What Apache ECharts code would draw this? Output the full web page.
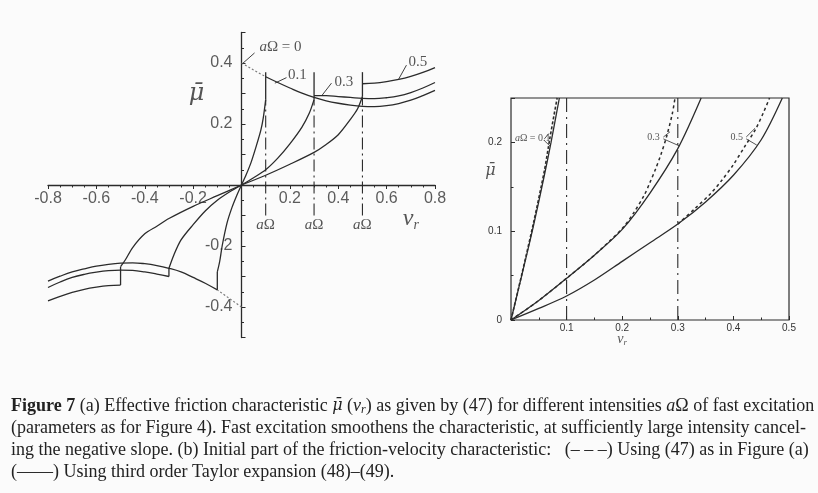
<!DOCTYPE html>
<html><head><meta charset="utf-8">
<script src="https://cdn.jsdelivr.net/npm/echarts@6/dist/echarts.min.js"></script>
<style>html,body{margin:0;padding:0;background:#fbfbfb}#c{width:818px;height:493px}</style>
</head><body><div id="c"></div><script>
// ---------- Panel (a): effective friction characteristic ----------
const aLevels = [0.1, 0.3, 0.5];
// rising branches (v_r >= 0)
const riseV01 = [0, 0.02, 0.04, 0.06, 0.08, 0.09, 0.1];
const riseMu01 = [0, 0.035, 0.075, 0.125, 0.18, 0.22, 0.28];
const riseV03 = [0, 0.05, 0.1, 0.15, 0.2, 0.25, 0.28, 0.3];
const riseMu03 = [0, 0.024, 0.05, 0.088, 0.135, 0.19, 0.235, 0.28];
const riseV05 = [0, 0.1, 0.2, 0.3, 0.35, 0.4, 0.45, 0.48, 0.5];
const riseMu05 = [0, 0.032, 0.068, 0.107, 0.133, 0.165, 0.215, 0.25, 0.29];
// upper arcs (v_r >= aΩ)
const arcV01 = [0.1, 0.15, 0.2, 0.25, 0.3, 0.35, 0.4, 0.45, 0.5, 0.55, 0.6, 0.65, 0.7, 0.75, 0.8];
const arcMu01 = [0.355, 0.336, 0.318, 0.301, 0.287, 0.276, 0.268, 0.262, 0.258, 0.257, 0.26, 0.267, 0.278, 0.293, 0.31];
const arcV03 = [0.3, 0.35, 0.4, 0.45, 0.5, 0.55, 0.6, 0.65, 0.7, 0.75, 0.8];
const arcMu03 = [0.293, 0.293, 0.29, 0.287, 0.284, 0.283, 0.286, 0.292, 0.303, 0.318, 0.336];
const arcV05 = [0.5, 0.55, 0.6, 0.65, 0.7, 0.75, 0.8];
const arcMu05 = [0.332, 0.334, 0.339, 0.346, 0.356, 0.369, 0.385];
// negative side branches
const nRiseV01 = [0, -0.02, -0.04, -0.06, -0.08, -0.09, -0.1];
const nRiseMu01 = [0, -0.035, -0.075, -0.125, -0.2, -0.25, -0.285];
const nRiseV03 = [0, -0.05, -0.1, -0.15, -0.2, -0.25, -0.28, -0.3];
const nRiseMu03 = [0, -0.023, -0.05, -0.085, -0.13, -0.18, -0.23, -0.273];
const nRiseV05 = [0, -0.1, -0.2, -0.3, -0.35, -0.4, -0.45, -0.48, -0.5];
const nRiseMu05 = [0, -0.035, -0.07, -0.11, -0.135, -0.16, -0.205, -0.245, -0.268];
const nArcV01 = [-0.8, -0.75, -0.7, -0.65, -0.6, -0.55, -0.5, -0.45, -0.4, -0.35, -0.3, -0.25, -0.2, -0.15, -0.1];
const nArcMu01 = [-0.315, -0.299, -0.285, -0.275, -0.266, -0.26, -0.256, -0.255, -0.258, -0.264, -0.273, -0.285, -0.303, -0.322, -0.344];
const nArcV03 = [-0.8, -0.75, -0.7, -0.65, -0.6, -0.55, -0.5, -0.45, -0.4, -0.35, -0.3];
const nArcMu03 = [-0.336, -0.318, -0.303, -0.293, -0.286, -0.281, -0.279, -0.28, -0.285, -0.292, -0.3];
const nArcV05 = [-0.8, -0.75, -0.7, -0.65, -0.6, -0.55, -0.5];
const nArcMu05 = [-0.38, -0.365, -0.352, -0.342, -0.335, -0.33, -0.328];
// aΩ = 0 (dotted) pieces near v_r = 0
const zeroV = [0, 0.05, 0.1];
const zeroMu = [0.4, 0.377, 0.355];
const nZeroV = [0, -0.05, -0.1];
const nZeroMu = [-0.4, -0.372, -0.344];
const markTop = 0.37, markBottom = -0.1;
const aTickLabelsX = ['-0.8', '-0.6', '-0.4', '-0.2', '0.2', '0.4', '0.6', '0.8'];
const aTickLabelsY = ['-0.4', '-0.2', '0.2', '0.4'];

// ---------- Panel (b): initial part ----------
const bMarks = [0.1, 0.3];
const bSolidV01 = [0, 0.02, 0.04, 0.06, 0.072, 0.087];
const bSolidMu01 = [0, 0.052, 0.105, 0.163, 0.2, 0.25];
const bDashV01 = [0, 0.02, 0.04, 0.06, 0.07, 0.083];
const bDashMu01 = [0, 0.053, 0.108, 0.168, 0.205, 0.25];
const bSolidV03 = [0, 0.05, 0.1, 0.15, 0.2, 0.25, 0.3, 0.342];
const bSolidMu03 = [0, 0.022, 0.047, 0.073, 0.102, 0.143, 0.193, 0.25];
const bDashV03 = [0, 0.05, 0.1, 0.15, 0.2, 0.22, 0.24, 0.25, 0.26, 0.27, 0.28, 0.29, 0.295];
const bDashMu03 = [0, 0.022, 0.047, 0.073, 0.103, 0.12, 0.141, 0.155, 0.17, 0.187, 0.207, 0.232, 0.25];
const bSolidV05 = [0, 0.05, 0.1, 0.15, 0.2, 0.25, 0.3, 0.35, 0.4, 0.45, 0.488];
const bSolidMu05 = [0, 0.013, 0.027, 0.045, 0.066, 0.087, 0.108, 0.133, 0.163, 0.203, 0.25];
const bDashV05 = [0.3, 0.33, 0.36, 0.38, 0.4, 0.42, 0.44, 0.455, 0.465];
const bDashMu05 = [0.108, 0.125, 0.143, 0.158, 0.175, 0.195, 0.215, 0.235, 0.25];
const bTickLabelsX = ['0.1', '0.2', '0.3', '0.4', '0.5'];
const bTickLabelsY = ['0', '0.1', '0.2'];

// ---------- Caption ----------
const captionLines = [
  '{b|Figure 7} (a) Effective friction characteristic {m|μ̄} ({i|v}{s|r}) as given by (47) for different intensities {i|a}Ω of fast excitation',
  '(parameters as for Figure 4). Fast excitation smoothens the characteristic, at sufficiently large intensity cancel-',
  'ing the negative slope. (b) Initial part of the friction-velocity characteristic:   (– – –) Using (47) as in Figure (a)',
  '(——) Using third order Taylor expansion (48)–(49).'
];

const INK = '#2b2b2b';
const pts = (vs, ms) => vs.map((v, i) => [v, ms[i]]);
function ln(idx, data, extra) {
  const s = {type: 'line', xAxisIndex: idx, yAxisIndex: idx, data: data, symbol: 'none', silent: true,
    animation: false, clip: false, lineStyle: {color: INK, width: 1.3}, z: 3};
  return Object.assign(s, extra || {});
}
function txt(idx, x, y, text, style) {
  return {type: 'scatter', xAxisIndex: idx, yAxisIndex: idx, symbolSize: 0, silent: true, animation: false, clip: false,
    data: [{value: [x, y], label: Object.assign({show: true, position: [0, 0], formatter: text,
      color: INK, align: 'left', verticalAlign: 'middle'}, style)}]};
}
const muFont = {fontFamily: 'DejaVu Serif', fontStyle: 'italic'};
const richA = {a: {fontFamily: 'Liberation Serif', fontStyle: 'italic', fontSize: 15, color: INK}};

const series = [];
// panel (a) curves
const riseSets = [[riseV01, riseMu01], [riseV03, riseMu03], [riseV05, riseMu05]];
const arcSets = [[arcV01, arcMu01], [arcV03, arcMu03], [arcV05, arcMu05]];
const nRiseSets = [[nRiseV01, nRiseMu01], [nRiseV03, nRiseMu03], [nRiseV05, nRiseMu05]];
const nArcSets = [[nArcV01, nArcMu01], [nArcV03, nArcMu03], [nArcV05, nArcMu05]];
aLevels.forEach((a, k) => {
  series.push(ln(0, pts(riseSets[k][0], riseSets[k][1]), {smooth: 0.3}));
  series.push(ln(0, pts(arcSets[k][0], arcSets[k][1]), {smooth: 0.4}));
  series.push(ln(0, pts(nRiseSets[k][0], nRiseSets[k][1]), {smooth: 0.3}));
  series.push(ln(0, pts(nArcSets[k][0], nArcSets[k][1]), {smooth: 0.4}));
  const rEnd = riseSets[k][1][riseSets[k][1].length - 1];
  // marker at v = aΩ: solid above, dash-dot below
  series.push(ln(0, [[a, rEnd], [a, markTop]], {lineStyle: {color: INK, width: 1.3}}));
  series.push(ln(0, [[a, markBottom], [a, rEnd]], {lineStyle: {color: INK, width: 1.1, type: [12, 4, 2, 4]}}));
  // connector on the negative side
  const nr = nRiseSets[k][1], na = nArcSets[k][1];
  series.push(ln(0, [[-a, nr[nr.length - 1]], [-a, na[na.length - 1]]]));
  series.push(txt(0, a, -0.131, '{a|a}Ω', {align: 'center', rich: richA, fontFamily: 'Liberation Serif', fontSize: 15}));
});
series.push(ln(0, pts(zeroV, zeroMu), {lineStyle: {color: '#777', width: 1.1, type: [2, 2]}}));
series.push(ln(0, pts(nZeroV, nZeroMu), {lineStyle: {color: '#777', width: 1.1, type: [2, 2]}}));
// tick labels of (a), placed next to the axes that cross at the origin
aTickLabelsX.forEach(s => series.push(txt(0, parseFloat(s), 0, s,
  {align: 'center', verticalAlign: 'top', position: [0, 6], fontFamily: 'Liberation Sans', fontSize: 16, color: '#333'})));
aTickLabelsY.forEach(s => series.push(txt(0, 0, parseFloat(s), s,
  {align: 'right', verticalAlign: 'middle', position: [-9, 0], fontFamily: 'Liberation Sans', fontSize: 16, color: '#333'})));
// pointers and labels in (a)
series.push(ln(0, [[0.054, 0.433], [0.004, 0.398]], {lineStyle: {color: INK, width: 0.9}}));
series.push(ln(0, [[0.186, 0.352], [0.138, 0.334]], {lineStyle: {color: INK, width: 0.9}}));
series.push(ln(0, [[0.372, 0.334], [0.331, 0.292]], {lineStyle: {color: INK, width: 0.9}}));
series.push(ln(0, [[0.682, 0.393], [0.649, 0.346]], {lineStyle: {color: INK, width: 0.9}}));
series.push(txt(0, 0.074, 0.452, '{a|a}Ω = 0', {rich: richA, fontFamily: 'Liberation Serif', fontSize: 15}));
series.push(txt(0, 0.192, 0.362, '0.1', {fontFamily: 'Liberation Serif', fontSize: 15}));
series.push(txt(0, 0.384, 0.338, '0.3', {fontFamily: 'Liberation Serif', fontSize: 15}));
series.push(txt(0, 0.69, 0.403, '0.5', {fontFamily: 'Liberation Serif', fontSize: 15}));
series.push(txt(0, -0.186, 0.3, 'μ̄', Object.assign({align: 'center', fontSize: 24}, muFont)));
series.push(txt(0, 0.70, -0.112, '{v|v}{r|r}', {align: 'center', rich: {
  v: {fontFamily: 'Liberation Serif', fontStyle: 'italic', fontSize: 24, color: INK},
  r: {fontFamily: 'Liberation Serif', fontStyle: 'italic', fontSize: 14, color: INK, padding: [12, 0, 0, 0]}}}));

// panel (b) curves
series.push(ln(1, pts(bSolidV01, bSolidMu01), {smooth: 0.3, lineStyle: {color: INK, width: 1.3}}));
series.push(ln(1, pts(bDashV01, bDashMu01), {smooth: 0.3, lineStyle: {color: INK, width: 1.6, type: [3, 2]}}));
series.push(ln(1, pts(bSolidV03, bSolidMu03), {smooth: 0.3, lineStyle: {color: INK, width: 1.3}}));
series.push(ln(1, pts(bDashV03, bDashMu03), {smooth: 0.3, lineStyle: {color: INK, width: 1.5, type: [3, 3]}}));
series.push(ln(1, pts(bSolidV05, bSolidMu05), {smooth: 0.3, lineStyle: {color: INK, width: 1.3}}));
series.push(ln(1, pts(bDashV05, bDashMu05), {smooth: 0.3, lineStyle: {color: INK, width: 1.5, type: [3, 3]}}));
bMarks.forEach(m => series.push(ln(1, [[m, 0], [m, 0.25]], {lineStyle: {color: INK, width: 1.1, type: [14, 5, 2, 5]}})));
// pointers in (b)
series.push(ln(1, [[0.274, 0.206], [0.286, 0.212]], {lineStyle: {color: INK, width: 0.8}}));
series.push(ln(1, [[0.274, 0.204], [0.303, 0.196]], {lineStyle: {color: INK, width: 0.8}}));
series.push(ln(1, [[0.423, 0.206], [0.439, 0.216]], {lineStyle: {color: INK, width: 0.8}}));
series.push(ln(1, [[0.423, 0.204], [0.442, 0.197]], {lineStyle: {color: INK, width: 0.8}}));
series.push(ln(1, [[0.06, 0.204], [0.068, 0.21]], {lineStyle: {color: INK, width: 0.8}}));
series.push(ln(1, [[0.06, 0.202], [0.07, 0.196]], {lineStyle: {color: INK, width: 0.8}}));
const richS = {a: {fontFamily: 'Liberation Serif', fontStyle: 'italic', fontSize: 10, color: INK}};
series.push(txt(1, 0.007, 0.204, '{a|a}Ω = 0.1', {rich: richS, fontFamily: 'Liberation Serif', fontSize: 10}));
series.push(txt(1, 0.245, 0.206, '0.3', {fontFamily: 'Liberation Serif', fontSize: 10}));
series.push(txt(1, 0.395, 0.206, '0.5', {fontFamily: 'Liberation Serif', fontSize: 10}));
series.push(txt(1, -0.037, 0.168, 'μ̄', Object.assign({align: 'center', fontSize: 16}, muFont)));
series.push(txt(1, 0.2, -0.022, '{v|v}{r|r}', {align: 'center', rich: {
  v: {fontFamily: 'Liberation Serif', fontStyle: 'italic', fontSize: 14, color: INK},
  r: {fontFamily: 'Liberation Serif', fontStyle: 'italic', fontSize: 9, color: INK, padding: [6, 0, 0, 0]}}}));

const fmt = (list) => (v) => { const s = (Math.round(v * 100) / 100).toString(); return list.indexOf(s) >= 0 ? s : ''; };
const axLine = {onZero: true, lineStyle: {color: INK, width: 1.3}};

const chart = echarts.init(document.getElementById('c'), null, {renderer: 'canvas'});
chart.setOption({
  backgroundColor: '#fbfbfb',
  animation: false,
  grid: [
    {left: 48, top: 32.5, width: 387, height: 305},
    {left: 511, top: 98, width: 278, height: 222, show: true, borderColor: INK, borderWidth: 1.2, backgroundColor: 'transparent'}
  ],
  xAxis: [
    {type: 'value', gridIndex: 0, min: -0.8, max: 0.8, interval: 0.2, axisLine: axLine,
      axisTick: {inside: false, length: 4, lineStyle: {color: INK}},
      minorTick: {show: true, splitNumber: 4, length: 2.5, lineStyle: {color: INK}},
      splitLine: {show: false}, axisLabel: {show: false}},
    {type: 'value', gridIndex: 1, min: 0, max: 0.5, interval: 0.1, axisLine: {show: false},
      axisTick: {inside: true, length: 4, lineStyle: {color: INK}},
      minorTick: {show: true, splitNumber: 2, length: 2.5, lineStyle: {color: INK}},
      splitLine: {show: false},
      axisLabel: {formatter: fmt(bTickLabelsX), color: '#333', fontFamily: 'Liberation Sans', fontSize: 10, margin: 3}}
  ],
  yAxis: [
    {type: 'value', gridIndex: 0, min: -0.5, max: 0.5, interval: 0.1, axisLine: axLine,
      axisTick: {inside: true, length: 4, lineStyle: {color: INK}},
      minorTick: {show: true, splitNumber: 2, length: 2.5, lineStyle: {color: INK}},
      splitLine: {show: false}, axisLabel: {show: false}},
    {type: 'value', gridIndex: 1, min: 0, max: 0.25, interval: 0.1, axisLine: {show: false},
      axisTick: {inside: true, length: 4, lineStyle: {color: INK}},
      minorTick: {show: true, splitNumber: 2, length: 2.5, lineStyle: {color: INK}},
      splitLine: {show: false},
      axisLabel: {formatter: fmt(bTickLabelsY), color: '#333', fontFamily: 'Liberation Sans', fontSize: 10, margin: 9}}
  ],
  series: series,
  graphic: captionLines.map((t, i) => ({
    type: 'text', left: 11, top: 397 + i * 22, silent: true,
    style: {text: t, fill: '#222', font: '18px "Liberation Serif"',
      rich: {b: {fontWeight: 'bold', fontFamily: 'Liberation Serif', fontSize: 18, fill: '#222'},
             i: {fontStyle: 'italic', fontFamily: 'Liberation Serif', fontSize: 18, fill: '#222'},
             m: {fontStyle: 'italic', fontFamily: 'DejaVu Serif', fontSize: 16, fill: '#222'},
             s: {fontStyle: 'italic', fontFamily: 'Liberation Serif', fontSize: 12, fill: '#222', padding: [7, 0, 0, 0]}}}
  }))
});
</script></body></html>
